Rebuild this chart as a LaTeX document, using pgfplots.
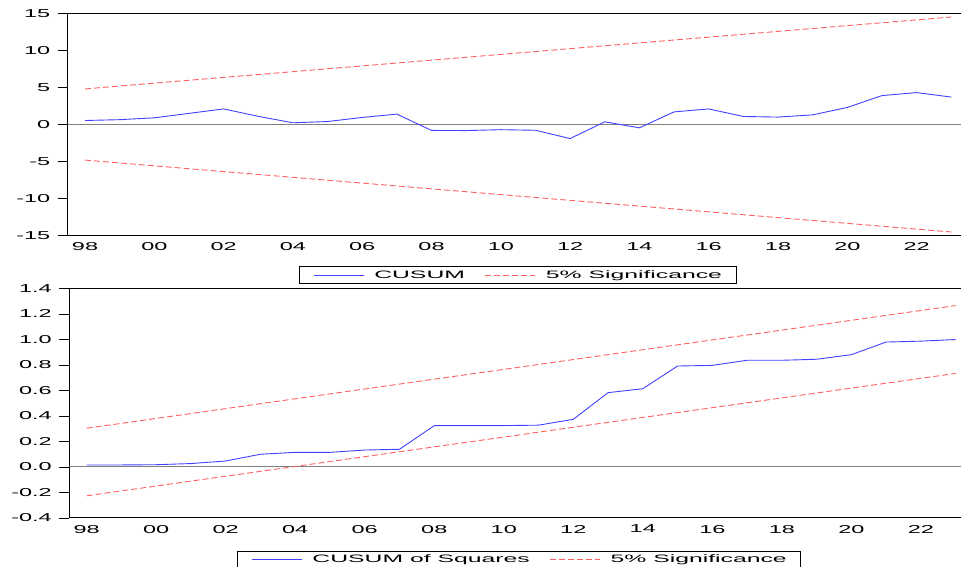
\documentclass[border=0pt]{standalone}
\usepackage{fontspec}
\setmainfont{Liberation Sans}
\newfontfamily\tickfont{Liberation Sans}[FakeStretch=2.05]
\newfontfamily\legfont{Liberation Sans}[FakeStretch=2.3]
\usepackage{pgfplots}
\pgfplotsset{compat=1.18}

\definecolor{cusumblue}{RGB}{64,64,255}
\definecolor{sigred}{RGB}{255,96,96}
\definecolor{zerogray}{RGB}{128,128,128}

\pgfplotsset{
  evstyle/.style={
    scale only axis,
    xmin=1997.5, xmax=2023.5,
    axis line style={line width=1bp, black},
    tick align=outside, tick pos=left,
    major tick length=10bp, minor tick length=3.5bp,
    tick style={line width=0.8bp, black},
    xtick=\empty,
    minor xtick={1997.5,1998.5,...,2023.5},
    extra x ticks={1998,2000,...,2022},
    extra x tick labels={98,00,02,04,06,08,10,12,14,16,18,20,22},
    extra x tick style={major tick length=0pt},
    tick label style={font=\tickfont\fontsize{11.5}{12}\selectfont},
    xticklabel style={yshift=-3.5bp},
    yticklabel style={xshift=-4bp},
    legend columns=2,
    legend image code/.code={\draw[##1] (0bp,0bp) -- (50bp,0bp);},
    legend style={
      anchor=center, draw=black, line width=0.8bp,
      inner xsep=14bp, inner ysep=3.25bp,
      font=\legfont\fontsize{10.8}{12}\selectfont,
      nodes={inner sep=0pt, text height=8bp, text depth=2.3bp},
      /tikz/every odd column/.append style={column sep=10.3bp},
      /tikz/every even column/.append style={column sep=19.7bp},
    },
    legend cell align=left,
  },
  cus/.style={cusumblue, line width=0.9bp, solid},
  sig/.style={sigred, line width=0.9bp, dash pattern=on 6bp off 3bp},
}

\begin{document}
\begin{tikzpicture}
\useasboundingbox (0,0) rectangle (961bp,567bp);

% CUSUM
\begin{axis}[evstyle,
  at={(67.7bp,553.7bp)}, anchor=north west,
  width=900.9bp, height=222.4bp,
  ymin=-15, ymax=15,
  ytick={-15,-10,-5,0,5,10,15},
  yticklabels={-15,-10,-5,0,5,10,15},
  legend style={at={(0.4993,-0.178)}},
]
\addplot[zerogray, line width=1bp, forget plot] coordinates {(1997.5,0) (2023.5,0)};
\addplot[cus] coordinates {
  (1998,0.54) (1999,0.65) (2000,0.9) (2001,1.5) (2002,2.1) (2003,1.1)
  (2004,0.23) (2005,0.4) (2006,0.95) (2007,1.4) (2008,-0.8) (2009,-0.82)
  (2010,-0.7) (2011,-0.78) (2012,-1.9) (2013,0.36) (2014,-0.45) (2015,1.7)
  (2016,2.1) (2017,1.08) (2018,1.0) (2019,1.3) (2020,2.3) (2021,3.9)
  (2022,4.3) (2023,3.7)
};
\addlegendentry{CUSUM}
\addplot[sig] coordinates {(1998,4.8) (2023,14.5)};
\addlegendentry{5\% Significance}
\addplot[sig, forget plot] coordinates {(1998,-4.8) (2023,-14.5)};
\end{axis}

% CUSUM of squares
\begin{axis}[evstyle,
  at={(69.3bp,278.5bp)}, anchor=north west,
  width=903.7bp, height=229.5bp,
  ymin=-0.4, ymax=1.4,
  ytick={-0.4,-0.2,0,0.2,0.4,0.6,0.8,1.0,1.2,1.4},
  yticklabels={-0.4,-0.2,0.0,0.2,0.4,0.6,0.8,1.0,1.2,1.4},
  legend style={at={(0.4976,-0.181)}},
]
\addplot[zerogray, line width=1bp, forget plot] coordinates {(1997.5,0) (2023.5,0)};
\addplot[cus] coordinates {
  (1998,0.016) (1999,0.016) (2000,0.018) (2001,0.027) (2002,0.047) (2003,0.100)
  (2004,0.115) (2005,0.115) (2006,0.133) (2007,0.139) (2008,0.324) (2009,0.324)
  (2010,0.325) (2011,0.328) (2012,0.374) (2013,0.583) (2014,0.614) (2015,0.792)
  (2016,0.797) (2017,0.837) (2018,0.837) (2019,0.845) (2020,0.881) (2021,0.980)
  (2022,0.987) (2023,1.0)
};
\addlegendentry{CUSUM of Squares}
\addplot[sig] coordinates {(1998,0.304) (2023,1.266)};
\addlegendentry{5\% Significance}
\addplot[sig, forget plot] coordinates {(1998,-0.226) (2023,0.734)};
\end{axis}
\end{tikzpicture}
\end{document}
